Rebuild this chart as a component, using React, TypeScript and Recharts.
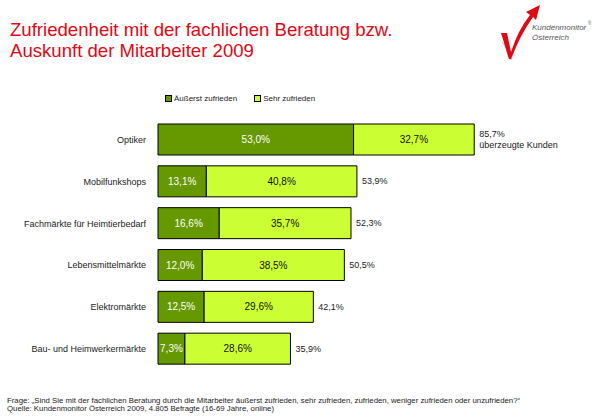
import React from 'react';
import { BarChart, Bar, XAxis, YAxis, LabelList, Legend } from 'recharts';

const categories = ['Optiker', 'Mobilfunkshops', 'Fachmärkte für Heimtierbedarf', 'Lebensmittelmärkte', 'Elektromärkte', 'Bau- und Heimwerkermärkte'];
const aeusserst = [53.0, 13.1, 16.6, 12.0, 12.5, 7.3];
const sehr = [32.7, 40.8, 35.7, 38.5, 29.6, 28.6];
const totals = [85.7, 53.9, 52.3, 50.5, 42.1, 35.9];
const seriesNames = ['Äußerst zufrieden', 'Sehr zufrieden'];

const data = categories.map((c, i) => ({ name: c, a: aeusserst[i], s: sehr[i], total: totals[i] }));

const FONT = '"Liberation Sans", Arial, Helvetica, sans-serif';
const DARK = '#669900';
const LIGHT = '#ccff33';
const RED = '#e30613';

const fmt = (v: number) => v.toFixed(1).replace('.', ',') + '%';

const CatTick = (props: any) => {
  const { y, payload } = props;
  return (
    <text x={146} y={y} dy={3} textAnchor="end" fontSize={9} fontFamily={FONT} fill="#222">
      {payload.value}
    </text>
  );
};

const InnerLabel = (color: string) => (props: any) => {
  const { x, y, width, height, value } = props;
  return (
    <text x={x + width / 2} y={y + height / 2} dy={3.5} textAnchor="middle" fontSize={10} fontFamily={FONT} fill={color}>
      {fmt(value)}
    </text>
  );
};

const TotalLabel = (props: any) => {
  const { x, y, width, height, index } = props;
  const t = totals[index];
  const tx = x + width + 5;
  const cy = y + height / 2;
  if (index === 0) {
    return (
      <text fontSize={9} fontFamily={FONT} fill="#222">
        <tspan x={tx} y={cy - 3}>{fmt(t)}</tspan>
        <tspan x={tx} y={cy + 8}>überzeugte Kunden</tspan>
      </text>
    );
  }
  return (
    <text x={tx} y={cy} dy={3} fontSize={9} fontFamily={FONT} fill="#222">
      {fmt(t)}
    </text>
  );
};

const LegendContent = () => (
  <div style={{ display: 'flex', fontFamily: FONT, fontSize: 8, color: '#222', alignItems: 'center' }}>
    <span style={{ display: 'inline-block', width: 5, height: 5, background: DARK, border: '1px solid #000', marginRight: 2 }} />
    <span style={{ marginRight: 17 }}>{seriesNames[0]}</span>
    <span style={{ display: 'inline-block', width: 5, height: 5, background: LIGHT, border: '1px solid #000', marginRight: 2 }} />
    <span>{seriesNames[1]}</span>
  </div>
);

export default function App() {
  return (
    <div style={{ position: 'absolute', left: 0, top: 0, width: 600, height: 417, background: '#fff', fontFamily: FONT }}>
      <div style={{ position: 'absolute', left: 10, top: 19, color: RED, fontSize: 18.6, lineHeight: '21px', whiteSpace: 'nowrap' }}>
        Zufriedenheit mit der fachlichen Beratung bzw.<br />Auskunft der Mitarbeiter 2009
      </div>
      <svg style={{ position: 'absolute', left: 480, top: 0 }} width={120} height={70}>
        <path d="M22 42 Q26 45 28 56 L31 60 Q38 36 55 13" fill="none" stroke="#bbb" strokeWidth={0.8} />
        <path d="M21 33 L27 33 L31 52 Q38 30 50 15 L46 12 L60 5 L56 20 L53 17 Q40 35 31 59 L29 59 Z" fill={RED} />
        <text x={52} y={30} fontSize={8} fontStyle="italic" fill="#555" fontFamily={FONT}>Kundenmonitor</text>
        <text x={108} y={25} fontSize={4.5} fill="#555" fontFamily={FONT}>®</text>
        <text x={52} y={40} fontSize={8} fontStyle="italic" fill="#555" fontFamily={FONT}>Österreich</text>
      </svg>
      <BarChart
        width={600}
        height={417}
        data={data}
        layout="vertical"
        margin={{ top: 110, right: 73, bottom: 47, left: 0 }}
        barSize={31}
      >
        <XAxis type="number" domain={[0, 100]} hide />
        <YAxis type="category" dataKey="name" width={158} axisLine={false} tickLine={false} tick={<CatTick />} interval={0} />
        <Legend verticalAlign="top" content={<LegendContent />} wrapperStyle={{ position: 'absolute', top: 94, left: 165, width: 300 }} />
        <Bar dataKey="a" name={seriesNames[0]} stackId="x" fill={DARK} stroke="#000" strokeWidth={1} isAnimationActive={false}>
          <LabelList dataKey="a" content={InnerLabel('#fff')} />
        </Bar>
        <Bar dataKey="s" name={seriesNames[1]} stackId="x" fill={LIGHT} stroke="#000" strokeWidth={1} isAnimationActive={false}>
          <LabelList dataKey="s" content={InnerLabel('#111')} />
          <LabelList dataKey="total" content={TotalLabel} />
        </Bar>
      </BarChart>
      <div style={{ position: 'absolute', left: 7, top: 397, fontSize: 7.8, lineHeight: '8px', color: '#222', whiteSpace: 'nowrap' }}>
        Frage: „Sind Sie mit der fachlichen Beratung durch die Mitarbeiter äußerst zufrieden, sehr zufrieden, zufrieden, weniger zufrieden oder unzufrieden?“<br />
        Quelle: Kundenmonitor Österreich 2009, 4.805 Befragte (16-69 Jahre, online)
      </div>
    </div>
  );
}
